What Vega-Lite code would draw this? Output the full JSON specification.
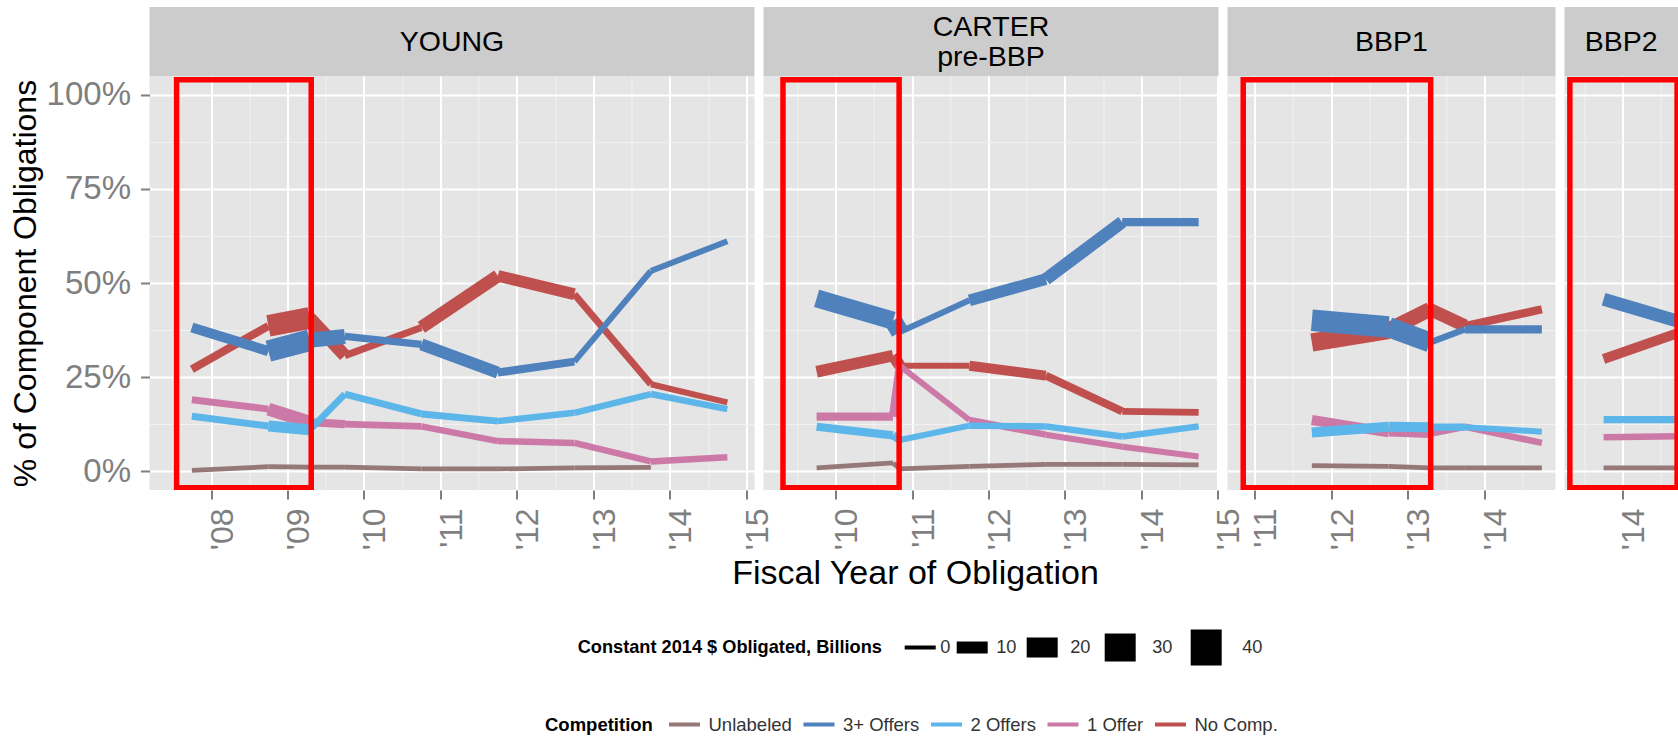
{
  "$schema": "https://vega.github.io/schema/vega-lite/v6.json",
  "padding": {"left": 8.5, "top": 7, "right": 0, "bottom": 0},
  "background": "white",
  "datasets": {
    "pts": [
      {"p":"YOUNG","c":"No Comp.","x":2007.75,"y":0.271,"s":5.0},
      {"p":"YOUNG","c":"No Comp.","x":2008.75,"y":0.386,"s":22.1},
      {"p":"YOUNG","c":"No Comp.","x":2009.29,"y":0.407,"s":11.2},
      {"p":"YOUNG","c":"No Comp.","x":2009.75,"y":0.307,"s":3.7},
      {"p":"YOUNG","c":"No Comp.","x":2010.75,"y":0.382,"s":11.2},
      {"p":"YOUNG","c":"No Comp.","x":2011.75,"y":0.519,"s":9.6},
      {"p":"YOUNG","c":"No Comp.","x":2012.75,"y":0.470,"s":3.7},
      {"p":"YOUNG","c":"No Comp.","x":2013.75,"y":0.231,"s":2.5},
      {"p":"YOUNG","c":"No Comp.","x":2014.75,"y":0.183,"s":2.5},
      {"p":"YOUNG","c":"1 Offer","x":2007.75,"y":0.190,"s":3.7},
      {"p":"YOUNG","c":"1 Offer","x":2008.75,"y":0.165,"s":11.2},
      {"p":"YOUNG","c":"1 Offer","x":2009.29,"y":0.130,"s":5.3},
      {"p":"YOUNG","c":"1 Offer","x":2009.75,"y":0.125,"s":3.7},
      {"p":"YOUNG","c":"1 Offer","x":2010.75,"y":0.119,"s":3.1},
      {"p":"YOUNG","c":"1 Offer","x":2011.75,"y":0.080,"s":3.1},
      {"p":"YOUNG","c":"1 Offer","x":2012.75,"y":0.075,"s":3.1},
      {"p":"YOUNG","c":"1 Offer","x":2013.75,"y":0.026,"s":3.1},
      {"p":"YOUNG","c":"1 Offer","x":2014.75,"y":0.037,"s":3.1},
      {"p":"YOUNG","c":"2 Offers","x":2007.75,"y":0.146,"s":3.7},
      {"p":"YOUNG","c":"2 Offers","x":2008.75,"y":0.120,"s":8.7},
      {"p":"YOUNG","c":"2 Offers","x":2009.29,"y":0.110,"s":3.4},
      {"p":"YOUNG","c":"2 Offers","x":2009.75,"y":0.205,"s":3.7},
      {"p":"YOUNG","c":"2 Offers","x":2010.75,"y":0.152,"s":3.7},
      {"p":"YOUNG","c":"2 Offers","x":2011.75,"y":0.133,"s":3.1},
      {"p":"YOUNG","c":"2 Offers","x":2012.75,"y":0.155,"s":3.1},
      {"p":"YOUNG","c":"2 Offers","x":2013.75,"y":0.205,"s":3.1},
      {"p":"YOUNG","c":"2 Offers","x":2014.75,"y":0.165,"s":3.1},
      {"p":"YOUNG","c":"3+ Offers","x":2007.75,"y":0.382,"s":7.5},
      {"p":"YOUNG","c":"3+ Offers","x":2008.75,"y":0.319,"s":22.1},
      {"p":"YOUNG","c":"3+ Offers","x":2009.29,"y":0.348,"s":13.7},
      {"p":"YOUNG","c":"3+ Offers","x":2009.75,"y":0.358,"s":4.1},
      {"p":"YOUNG","c":"3+ Offers","x":2010.75,"y":0.337,"s":10.0},
      {"p":"YOUNG","c":"3+ Offers","x":2011.75,"y":0.262,"s":5.0},
      {"p":"YOUNG","c":"3+ Offers","x":2012.75,"y":0.291,"s":2.5},
      {"p":"YOUNG","c":"3+ Offers","x":2013.75,"y":0.532,"s":2.5},
      {"p":"YOUNG","c":"3+ Offers","x":2014.75,"y":0.611,"s":2.5},
      {"p":"YOUNG","c":"Unlabeled","x":2007.75,"y":0.002,"s":0.9},
      {"p":"YOUNG","c":"Unlabeled","x":2008.75,"y":0.012,"s":0.9},
      {"p":"YOUNG","c":"Unlabeled","x":2009.29,"y":0.011,"s":0.9},
      {"p":"YOUNG","c":"Unlabeled","x":2009.75,"y":0.011,"s":0.9},
      {"p":"YOUNG","c":"Unlabeled","x":2010.75,"y":0.006,"s":0.9},
      {"p":"YOUNG","c":"Unlabeled","x":2011.75,"y":0.006,"s":0.9},
      {"p":"YOUNG","c":"Unlabeled","x":2012.75,"y":0.009,"s":0.9},
      {"p":"YOUNG","c":"Unlabeled","x":2013.75,"y":0.010,"s":0.9},

      {"p":"CARTER","c":"No Comp.","x":2009.75,"y":0.264,"s":9.6},
      {"p":"CARTER","c":"No Comp.","x":2010.75,"y":0.307,"s":9.6},
      {"p":"CARTER","c":"No Comp.","x":2010.84,"y":0.280,"s":2.5},
      {"p":"CARTER","c":"No Comp.","x":2011.75,"y":0.280,"s":7.5},
      {"p":"CARTER","c":"No Comp.","x":2012.75,"y":0.254,"s":5.0},
      {"p":"CARTER","c":"No Comp.","x":2013.75,"y":0.159,"s":3.4},
      {"p":"CARTER","c":"No Comp.","x":2014.75,"y":0.156,"s":3.4},
      {"p":"CARTER","c":"1 Offer","x":2009.75,"y":0.145,"s":5.3},
      {"p":"CARTER","c":"1 Offer","x":2010.75,"y":0.145,"s":5.3},
      {"p":"CARTER","c":"1 Offer","x":2010.84,"y":0.280,"s":2.5},
      {"p":"CARTER","c":"1 Offer","x":2011.75,"y":0.136,"s":3.1},
      {"p":"CARTER","c":"1 Offer","x":2012.75,"y":0.097,"s":2.5},
      {"p":"CARTER","c":"1 Offer","x":2013.75,"y":0.065,"s":2.5},
      {"p":"CARTER","c":"1 Offer","x":2014.75,"y":0.039,"s":2.5},
      {"p":"CARTER","c":"2 Offers","x":2009.75,"y":0.118,"s":5.3},
      {"p":"CARTER","c":"2 Offers","x":2010.75,"y":0.095,"s":5.3},
      {"p":"CARTER","c":"2 Offers","x":2010.84,"y":0.083,"s":2.5},
      {"p":"CARTER","c":"2 Offers","x":2011.75,"y":0.121,"s":3.1},
      {"p":"CARTER","c":"2 Offers","x":2012.75,"y":0.119,"s":3.1},
      {"p":"CARTER","c":"2 Offers","x":2013.75,"y":0.092,"s":3.1},
      {"p":"CARTER","c":"2 Offers","x":2014.75,"y":0.119,"s":3.1},
      {"p":"CARTER","c":"3+ Offers","x":2009.75,"y":0.459,"s":17.6},
      {"p":"CARTER","c":"3+ Offers","x":2010.75,"y":0.400,"s":17.6},
      {"p":"CARTER","c":"3+ Offers","x":2010.84,"y":0.370,"s":2.5},
      {"p":"CARTER","c":"3+ Offers","x":2011.75,"y":0.454,"s":9.6},
      {"p":"CARTER","c":"3+ Offers","x":2012.75,"y":0.510,"s":10.9},
      {"p":"CARTER","c":"3+ Offers","x":2013.75,"y":0.662,"s":5.3},
      {"p":"CARTER","c":"3+ Offers","x":2014.75,"y":0.662,"s":5.3},
      {"p":"CARTER","c":"Unlabeled","x":2009.75,"y":0.009,"s":0.9},
      {"p":"CARTER","c":"Unlabeled","x":2010.75,"y":0.022,"s":0.9},
      {"p":"CARTER","c":"Unlabeled","x":2010.84,"y":0.006,"s":0.9},
      {"p":"CARTER","c":"Unlabeled","x":2011.75,"y":0.013,"s":0.9},
      {"p":"CARTER","c":"Unlabeled","x":2012.75,"y":0.018,"s":0.9},
      {"p":"CARTER","c":"Unlabeled","x":2013.75,"y":0.018,"s":0.9},
      {"p":"CARTER","c":"Unlabeled","x":2014.75,"y":0.017,"s":0.9},

      {"p":"BBP1","c":"No Comp.","x":2011.75,"y":0.342,"s":17.6},
      {"p":"BBP1","c":"No Comp.","x":2012.75,"y":0.375,"s":13.7},
      {"p":"BBP1","c":"No Comp.","x":2013.29,"y":0.430,"s":11.2},
      {"p":"BBP1","c":"No Comp.","x":2013.75,"y":0.386,"s":5.3},
      {"p":"BBP1","c":"No Comp.","x":2014.75,"y":0.430,"s":5.3},
      {"p":"BBP1","c":"1 Offer","x":2011.75,"y":0.136,"s":7.5},
      {"p":"BBP1","c":"1 Offer","x":2012.75,"y":0.103,"s":5.3},
      {"p":"BBP1","c":"1 Offer","x":2013.29,"y":0.099,"s":3.1},
      {"p":"BBP1","c":"1 Offer","x":2013.75,"y":0.118,"s":3.1},
      {"p":"BBP1","c":"1 Offer","x":2014.75,"y":0.075,"s":3.1},
      {"p":"BBP1","c":"2 Offers","x":2011.75,"y":0.103,"s":7.5},
      {"p":"BBP1","c":"2 Offers","x":2012.75,"y":0.118,"s":7.5},
      {"p":"BBP1","c":"2 Offers","x":2013.29,"y":0.117,"s":4.1},
      {"p":"BBP1","c":"2 Offers","x":2013.75,"y":0.117,"s":2.5},
      {"p":"BBP1","c":"2 Offers","x":2014.75,"y":0.105,"s":2.5},
      {"p":"BBP1","c":"3+ Offers","x":2011.75,"y":0.401,"s":22.1},
      {"p":"BBP1","c":"3+ Offers","x":2012.75,"y":0.383,"s":20.0},
      {"p":"BBP1","c":"3+ Offers","x":2013.29,"y":0.342,"s":3.1},
      {"p":"BBP1","c":"3+ Offers","x":2013.75,"y":0.377,"s":5.3},
      {"p":"BBP1","c":"3+ Offers","x":2014.75,"y":0.377,"s":5.3},
      {"p":"BBP1","c":"Unlabeled","x":2011.75,"y":0.015,"s":0.9},
      {"p":"BBP1","c":"Unlabeled","x":2012.75,"y":0.013,"s":0.9},
      {"p":"BBP1","c":"Unlabeled","x":2013.29,"y":0.009,"s":0.9},
      {"p":"BBP1","c":"Unlabeled","x":2013.75,"y":0.009,"s":0.9},
      {"p":"BBP1","c":"Unlabeled","x":2014.75,"y":0.009,"s":0.9},

      {"p":"BBP2","c":"No Comp.","x":2013.75,"y":0.298,"s":7.5},
      {"p":"BBP2","c":"No Comp.","x":2014.75,"y":0.369,"s":7.5},
      {"p":"BBP2","c":"1 Offer","x":2013.75,"y":0.090,"s":3.1},
      {"p":"BBP2","c":"1 Offer","x":2014.75,"y":0.093,"s":3.1},
      {"p":"BBP2","c":"2 Offers","x":2013.75,"y":0.137,"s":4.1},
      {"p":"BBP2","c":"2 Offers","x":2014.75,"y":0.137,"s":4.1},
      {"p":"BBP2","c":"3+ Offers","x":2013.75,"y":0.457,"s":11.2},
      {"p":"BBP2","c":"3+ Offers","x":2014.75,"y":0.397,"s":11.2},
      {"p":"BBP2","c":"Unlabeled","x":2013.75,"y":0.009,"s":0.9},
      {"p":"BBP2","c":"Unlabeled","x":2014.75,"y":0.009,"s":0.9}
    ],
    "eras": [
      {"p":"YOUNG","label":"YOUNG","start":2007.55,"end":2009.31},
      {"p":"CARTER","label":"CARTER\npre-BBP","start":2009.31,"end":2010.83},
      {"p":"BBP1","label":"BBP1","start":2010.855,"end":2013.30},
      {"p":"BBP2","label":"BBP2","start":2013.31,"end":2014.71}
    ]
  },
  "columns": 4,
  "align": "each",
  "bounds": "flush",
  "spacing": {"row": 0, "column": 9},
  "resolve": {"scale": {"x": "independent", "y": "independent", "color": "shared", "strokeWidth": "shared"}},
  "concat": [
    {
      "width": 605, "height": 69,
      "view": {"fill": "#CCCCCC", "stroke": null},
      "data": {"name": "eras"},
      "transform": [{"filter": "datum.p == 'YOUNG'"}],
      "mark": {"type": "text", "fontSize": 28.5, "color": "#000000", "lineBreak": "\n", "lineHeight": 30},
      "encoding": {"text": {"field": "label", "type": "nominal"}}
    },
    {
      "width": 455, "height": 69,
      "view": {"fill": "#CCCCCC", "stroke": null},
      "data": {"name": "eras"},
      "transform": [{"filter": "datum.p == 'CARTER'"}],
      "mark": {"type": "text", "fontSize": 28.5, "color": "#000000", "lineBreak": "\n", "lineHeight": 30, "dy": -15},
      "encoding": {"text": {"field": "label", "type": "nominal"}}
    },
    {
      "width": 328, "height": 69,
      "view": {"fill": "#CCCCCC", "stroke": null},
      "data": {"name": "eras"},
      "transform": [{"filter": "datum.p == 'BBP1'"}],
      "mark": {"type": "text", "fontSize": 28.5, "color": "#000000", "lineBreak": "\n", "lineHeight": 30},
      "encoding": {"text": {"field": "label", "type": "nominal"}}
    },
    {
      "width": 113.5, "height": 69,
      "view": {"fill": "#CCCCCC", "stroke": null},
      "data": {"name": "eras"},
      "transform": [{"filter": "datum.p == 'BBP2'"}],
      "mark": {"type": "text", "fontSize": 28.5, "color": "#000000", "lineBreak": "\n", "lineHeight": 30},
      "encoding": {"text": {"field": "label", "type": "nominal"}}
    },
    {
      "width": 605, "height": 414,
      "view": {"fill": "#E5E5E5", "stroke": null},
      "layer": [
        {
          "data": {"name": "pts"},
          "transform": [
            {"filter": "datum.p == 'YOUNG'"},
            {"window": [{"op": "lead", "field": "x", "as": "x2"}, {"op": "lead", "field": "y", "as": "y2"}], "groupby": ["c"], "sort": [{"field": "x", "order": "ascending"}]},
            {"filter": "datum.x2 != null"}
          ],
          "mark": {"type": "rule", "strokeCap": "butt", "clip": true},
          "encoding": {
            "x": {"field": "x", "type": "quantitative", "scale": {"domain": [2007.196, 2015.105], "nice": false, "zero": false},
              "axis": {"values": [2007.5,2008,2008.5,2009,2009.5,2010,2010.5,2011,2011.5,2012,2012.5,2013,2013.5,2014,2014.5,2015],
                "title": null, "domain": false, "labelFlush": false, "labelOverlap": false, "labelBound": false,
                "labelExpr": "datum.value % 1 == 0 ? \"'\" + substring(toString(datum.value), 2, 4) : ''",
                "labelAngle": 270, "labelBaseline": "top", "labelOffset": -4, "labelFontSize": 32, "labelColor": "#7F7F7F", "labelPadding": 9,
                "tickSize": 9, "tickWidth": 2, "tickColor": "#7F7F7F",
                "tickOpacity": {"condition": {"test": "datum.value % 1 != 0", "value": 0}, "value": 1},
                "grid": true,
                "gridColor": {"condition": {"test": "datum.value % 1 != 0", "value": "#F2F2F2"}, "value": "#FFFFFF"},
                "gridWidth": {"condition": {"test": "datum.value % 1 != 0", "value": 1}, "value": 2}}},
            "x2": {"field": "x2"},
            "y": {"field": "y", "type": "quantitative", "scale": {"domain": [-0.05, 1.05], "nice": false, "zero": false},
              "axis": {"values": [0,0.125,0.25,0.375,0.5,0.625,0.75,0.875,1],
                "title": "% of Component Obligations", "titleFontSize": 32, "titleFontWeight": "normal", "titleColor": "#000000", "titlePadding": 4,
                "domain": false, "labelFlush": false, "labelOverlap": false,
                "labelExpr": "(datum.value * 4) % 1 == 0 ? format(datum.value, '.0%') : ''",
                "labelFontSize": 33, "labelColor": "#7F7F7F", "labelPadding": 10,
                "tickSize": 9, "tickWidth": 2, "tickColor": "#7F7F7F",
                "tickOpacity": {"condition": {"test": "(datum.value * 4) % 1 != 0", "value": 0}, "value": 1},
                "grid": true,
                "gridColor": {"condition": {"test": "(datum.value * 4) % 1 != 0", "value": "#F2F2F2"}, "value": "#FFFFFF"},
                "gridWidth": {"condition": {"test": "(datum.value * 4) % 1 != 0", "value": 1}, "value": 2}}},
            "y2": {"field": "y2"},
            "color": {"field": "c", "type": "nominal",
              "scale": {"domain": ["Unlabeled", "3+ Offers", "2 Offers", "1 Offer", "No Comp."], "range": ["#967878", "#4F81BD", "#5DB6E9", "#CC79A7", "#C0504D"]},
              "legend": {"title": "Competition", "orient": "none", "legendX": 395.5, "legendY": 707.5, "direction": "horizontal",
                "titleOrient": "left", "titleAnchor": "middle", "titleBaseline": "middle", "titleFontSize": 18.5, "titleFontWeight": "bold", "titleColor": "#000000", "titlePadding": 14, "titleLimit": 1000,
                "labelFontSize": 18.5, "labelColor": "#333333", "labelOffset": 6.5, "columnPadding": 9.5, "clipHeight": 20,
                "symbolType": "stroke", "symbolStrokeWidth": 4, "symbolSize": 961}},
            "strokeWidth": {"field": "s", "type": "quantitative",
              "scale": {"domain": [0, 40], "range": [4, 36], "zero": false},
              "legend": {"title": "Constant 2014 $ Obligated, Billions", "orient": "none", "legendX": 428.2, "legendY": 621.5, "direction": "horizontal",
                "values": [0, 10, 20, 30, 40],
                "titleOrient": "left", "titleAnchor": "middle", "titleBaseline": "middle", "titleFontSize": 18.2, "titleFontWeight": "bold", "titleColor": "#000000", "titlePadding": 20, "titleLimit": 1000,
                "labelFontSize": 18.2, "labelColor": "#333333", "labelOffset": 2.5, "columnPadding": -3, "clipHeight": 38,
                "symbolType": "stroke", "symbolStrokeColor": "#000000", "symbolSize": 961}}
          }
        },
        {
          "data": {"name": "eras"},
          "transform": [{"filter": "datum.p == 'YOUNG'"}],
          "mark": {"type": "rect", "filled": false, "stroke": "#FF0000", "strokeWidth": 5.5, "clip": true},
          "encoding": {
            "x": {"field": "start", "type": "quantitative"},
            "x2": {"field": "end"},
            "y": {"datum": -0.044, "type": "quantitative"},
            "y2": {"datum": 1.04}
          }
        }
      ]
    },
    {
      "width": 455, "height": 414,
      "view": {"fill": "#E5E5E5", "stroke": null},
      "layer": [
        {
          "data": {"name": "pts"},
          "transform": [
            {"filter": "datum.p == 'CARTER'"},
            {"window": [{"op": "lead", "field": "x", "as": "x2"}, {"op": "lead", "field": "y", "as": "y2"}], "groupby": ["c"], "sort": [{"field": "x", "order": "ascending"}]},
            {"filter": "datum.x2 != null"}
          ],
          "mark": {"type": "rule", "strokeCap": "butt", "clip": true},
          "encoding": {
            "x": {"field": "x", "type": "quantitative", "scale": {"domain": [2009.055, 2015.01], "nice": false, "zero": false},
              "axis": {"values": [2009.5,2010,2010.5,2011,2011.5,2012,2012.5,2013,2013.5,2014,2014.5,2015],
                "title": "Fiscal Year of Obligation", "titleX": 151.5, "titleAlign": "center", "titleBaseline": "top", "titleFontSize": 34, "titleFontWeight": "normal", "titleColor": "#000000", "titlePadding": 7,
                "domain": false, "labelFlush": false, "labelOverlap": false, "labelBound": false,
                "labelExpr": "datum.value % 1 == 0 ? \"'\" + substring(toString(datum.value), 2, 4) : ''",
                "labelAngle": 270, "labelBaseline": "top", "labelOffset": -4, "labelFontSize": 32, "labelColor": "#7F7F7F", "labelPadding": 9,
                "tickSize": 9, "tickWidth": 2, "tickColor": "#7F7F7F",
                "tickOpacity": {"condition": {"test": "datum.value % 1 != 0", "value": 0}, "value": 1},
                "grid": true,
                "gridColor": {"condition": {"test": "datum.value % 1 != 0", "value": "#F2F2F2"}, "value": "#FFFFFF"},
                "gridWidth": {"condition": {"test": "datum.value % 1 != 0", "value": 1}, "value": 2}}},
            "x2": {"field": "x2"},
            "y": {"field": "y", "type": "quantitative", "scale": {"domain": [-0.05, 1.05], "nice": false, "zero": false},
              "axis": {"values": [0,0.125,0.25,0.375,0.5,0.625,0.75,0.875,1], "title": null, "labels": false, "ticks": false, "domain": false,
                "grid": true,
                "gridColor": {"condition": {"test": "(datum.value * 4) % 1 != 0", "value": "#F2F2F2"}, "value": "#FFFFFF"},
                "gridWidth": {"condition": {"test": "(datum.value * 4) % 1 != 0", "value": 1}, "value": 2}}},
            "y2": {"field": "y2"},
            "color": {"field": "c", "type": "nominal"},
            "strokeWidth": {"field": "s", "type": "quantitative"}
          }
        },
        {
          "data": {"name": "eras"},
          "transform": [{"filter": "datum.p == 'CARTER'"}],
          "mark": {"type": "rect", "filled": false, "stroke": "#FF0000", "strokeWidth": 5.5, "clip": true},
          "encoding": {
            "x": {"field": "start", "type": "quantitative"},
            "x2": {"field": "end"},
            "y": {"datum": -0.044, "type": "quantitative"},
            "y2": {"datum": 1.04}
          }
        }
      ]
    },
    {
      "width": 328, "height": 414,
      "view": {"fill": "#E5E5E5", "stroke": null},
      "layer": [
        {
          "data": {"name": "pts"},
          "transform": [
            {"filter": "datum.p == 'BBP1'"},
            {"window": [{"op": "lead", "field": "x", "as": "x2"}, {"op": "lead", "field": "y", "as": "y2"}], "groupby": ["c"], "sort": [{"field": "x", "order": "ascending"}]},
            {"filter": "datum.x2 != null"}
          ],
          "mark": {"type": "rule", "strokeCap": "butt", "clip": true},
          "encoding": {
            "x": {"field": "x", "type": "quantitative", "scale": {"domain": [2010.65, 2014.928], "nice": false, "zero": false},
              "axis": {"values": [2011,2011.5,2012,2012.5,2013,2013.5,2014,2014.5],
                "title": null, "domain": false, "labelFlush": false, "labelOverlap": false, "labelBound": false,
                "labelExpr": "datum.value % 1 == 0 ? \"'\" + substring(toString(datum.value), 2, 4) : ''",
                "labelAngle": 270, "labelBaseline": "top", "labelOffset": -4, "labelFontSize": 32, "labelColor": "#7F7F7F", "labelPadding": 9,
                "tickSize": 9, "tickWidth": 2, "tickColor": "#7F7F7F",
                "tickOpacity": {"condition": {"test": "datum.value % 1 != 0", "value": 0}, "value": 1},
                "grid": true,
                "gridColor": {"condition": {"test": "datum.value % 1 != 0", "value": "#F2F2F2"}, "value": "#FFFFFF"},
                "gridWidth": {"condition": {"test": "datum.value % 1 != 0", "value": 1}, "value": 2}}},
            "x2": {"field": "x2"},
            "y": {"field": "y", "type": "quantitative", "scale": {"domain": [-0.05, 1.05], "nice": false, "zero": false},
              "axis": {"values": [0,0.125,0.25,0.375,0.5,0.625,0.75,0.875,1], "title": null, "labels": false, "ticks": false, "domain": false,
                "grid": true,
                "gridColor": {"condition": {"test": "(datum.value * 4) % 1 != 0", "value": "#F2F2F2"}, "value": "#FFFFFF"},
                "gridWidth": {"condition": {"test": "(datum.value * 4) % 1 != 0", "value": 1}, "value": 2}}},
            "y2": {"field": "y2"},
            "color": {"field": "c", "type": "nominal"},
            "strokeWidth": {"field": "s", "type": "quantitative"}
          }
        },
        {
          "data": {"name": "eras"},
          "transform": [{"filter": "datum.p == 'BBP1'"}],
          "mark": {"type": "rect", "filled": false, "stroke": "#FF0000", "strokeWidth": 5.5, "clip": true},
          "encoding": {
            "x": {"field": "start", "type": "quantitative"},
            "x2": {"field": "end"},
            "y": {"datum": -0.044, "type": "quantitative"},
            "y2": {"datum": 1.04}
          }
        }
      ]
    },
    {
      "width": 113.5, "height": 414,
      "view": {"fill": "#E5E5E5", "stroke": null},
      "layer": [
        {
          "data": {"name": "pts"},
          "transform": [
            {"filter": "datum.p == 'BBP2'"},
            {"window": [{"op": "lead", "field": "x", "as": "x2"}, {"op": "lead", "field": "y", "as": "y2"}], "groupby": ["c"], "sort": [{"field": "x", "order": "ascending"}]},
            {"filter": "datum.x2 != null"}
          ],
          "mark": {"type": "rule", "strokeCap": "butt", "clip": true},
          "encoding": {
            "x": {"field": "x", "type": "quantitative", "scale": {"domain": [2013.24, 2014.722], "nice": false, "zero": false},
              "axis": {"values": [2013.5,2014,2014.5],
                "title": null, "domain": false, "labelFlush": false, "labelOverlap": false, "labelBound": false,
                "labelExpr": "datum.value % 1 == 0 ? \"'\" + substring(toString(datum.value), 2, 4) : ''",
                "labelAngle": 270, "labelBaseline": "top", "labelOffset": -4, "labelFontSize": 32, "labelColor": "#7F7F7F", "labelPadding": 9,
                "tickSize": 9, "tickWidth": 2, "tickColor": "#7F7F7F",
                "tickOpacity": {"condition": {"test": "datum.value % 1 != 0", "value": 0}, "value": 1},
                "grid": true,
                "gridColor": {"condition": {"test": "datum.value % 1 != 0", "value": "#F2F2F2"}, "value": "#FFFFFF"},
                "gridWidth": {"condition": {"test": "datum.value % 1 != 0", "value": 1}, "value": 2}}},
            "x2": {"field": "x2"},
            "y": {"field": "y", "type": "quantitative", "scale": {"domain": [-0.05, 1.05], "nice": false, "zero": false},
              "axis": {"values": [0,0.125,0.25,0.375,0.5,0.625,0.75,0.875,1], "title": null, "labels": false, "ticks": false, "domain": false,
                "grid": true,
                "gridColor": {"condition": {"test": "(datum.value * 4) % 1 != 0", "value": "#F2F2F2"}, "value": "#FFFFFF"},
                "gridWidth": {"condition": {"test": "(datum.value * 4) % 1 != 0", "value": 1}, "value": 2}}},
            "y2": {"field": "y2"},
            "color": {"field": "c", "type": "nominal"},
            "strokeWidth": {"field": "s", "type": "quantitative"}
          }
        },
        {
          "data": {"name": "eras"},
          "transform": [{"filter": "datum.p == 'BBP2'"}],
          "mark": {"type": "rect", "filled": false, "stroke": "#FF0000", "strokeWidth": 5.5, "clip": true},
          "encoding": {
            "x": {"field": "start", "type": "quantitative"},
            "x2": {"field": "end"},
            "y": {"datum": -0.044, "type": "quantitative"},
            "y2": {"datum": 1.04}
          }
        }
      ]
    }
  ],
  "config": {
    "font": "Liberation Sans",
    "view": {"stroke": null}
  }
}
